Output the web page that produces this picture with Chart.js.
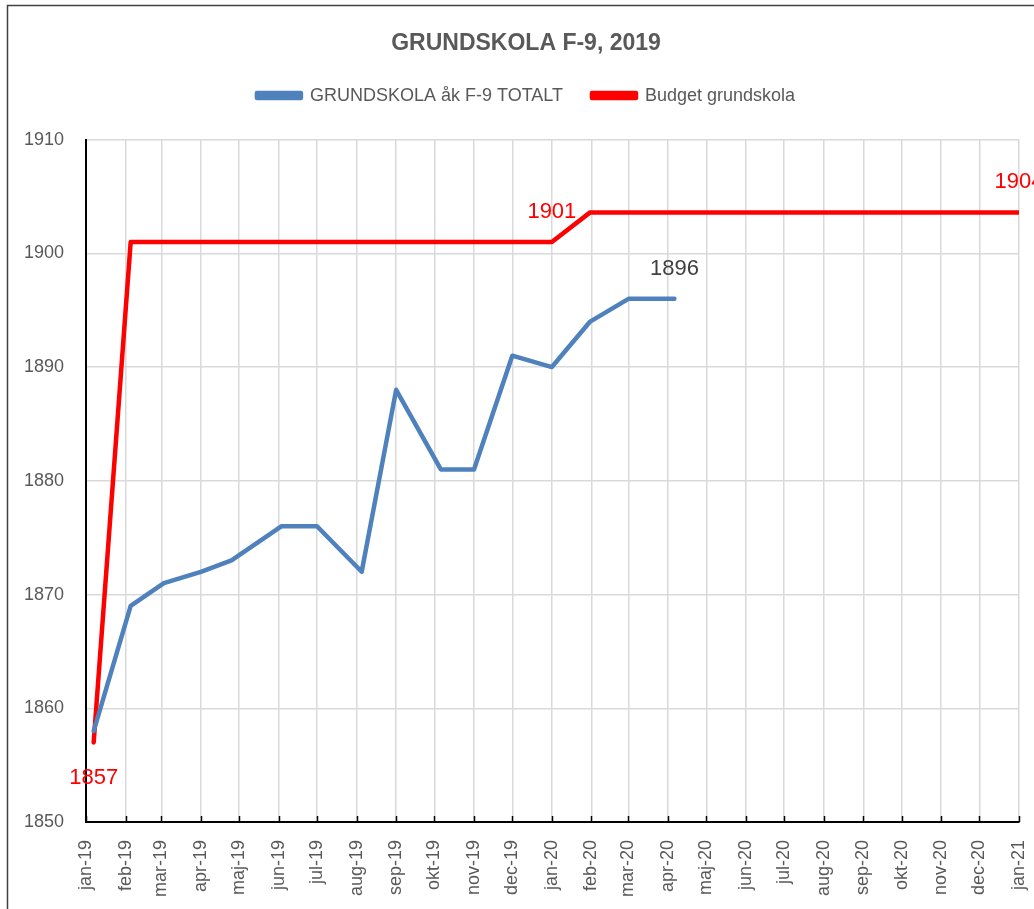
<!DOCTYPE html>
<html>
<head>
<meta charset="utf-8">
<title>GRUNDSKOLA F-9, 2019</title>
<script src="https://cdn.jsdelivr.net/npm/chart.js@4.4.1/dist/chart.umd.min.js"></script>
<style>
  html, body { margin: 0; padding: 0; background: #fff; }
  canvas { display: block; }
</style>
</head>
<body>
<canvas id="chart" width="1034" height="909"></canvas>
<script>
// x runs in days counted from 1 jan 2019
const START = Date.UTC(2019, 0, 1);
const DAY = 86400000;

const TICK_LABELS = [
    'jan-19', 'feb-19', 'mar-19', 'apr-19', 'maj-19', 'jun-19', 'jul-19', 'aug-19',
    'sep-19', 'okt-19', 'nov-19', 'dec-19', 'jan-20', 'feb-20', 'mar-20', 'apr-20',
    'maj-20', 'jun-20', 'jul-20', 'aug-20', 'sep-20', 'okt-20', 'nov-20', 'dec-20', 'jan-21'
];

const ELEV_DATES = [
    '2019-01-07', '2019-02-05', '2019-03-03', '2019-04-01', '2019-04-25', '2019-06-03',
    '2019-07-01', '2019-08-05', '2019-09-01', '2019-10-06', '2019-11-01', '2019-12-01',
    '2020-01-01', '2020-01-31', '2020-03-01', '2020-04-06'
];
const ELEV_VALUES = [1858, 1869, 1871, 1872, 1873, 1876, 1876, 1872, 1888, 1881, 1881, 1891, 1890, 1894, 1896, 1896];

const BUDGET_DATES = ['2019-01-07', '2019-02-05', '2020-01-01', '2020-01-31', '2021-01-01'];
const BUDGET_VALUES = [1857, 1901, 1901, 1903.6, 1903.6];

// which points carry a value label
const ELEV_LABELED = [15];
const BUDGET_LABELED = [0, 2, 4];

const Y_MIN = 1850, Y_MAX = 1910, Y_STEP = 10;

function dayOf(str) {
    const [y, m, d] = str.split('-').map(Number);
    return (Date.UTC(y, m - 1, d) - START) / DAY;
}
function points(dates, values) {
    return dates.map((d, i) => ({ x: dayOf(d), y: values[i] }));
}
const tickDays = TICK_LABELS.map((l, i) => (Date.UTC(2019, i, 1) - START) / DAY);

const GREY = '#595959';
const FONT = "'Liberation Sans', Arial, sans-serif";

// frame round the whole chart
const framePlugin = {
    id: 'frame',
    beforeDraw(chart) {
        const ctx = chart.ctx;
        ctx.save();
        ctx.strokeStyle = '#404040';
        ctx.lineWidth = 1.5;
        ctx.strokeRect(7.5, 5.5, 1200, 1200);
        ctx.restore();
    }
};

// short tick marks on the inside of the x axis
const innerTicks = {
    id: 'innerTicks',
    afterDraw(chart) {
        const x = chart.scales.x, ctx = chart.ctx;
        const bottom = chart.chartArea.bottom;
        ctx.save();
        ctx.strokeStyle = '#000';
        ctx.lineWidth = 1.5;
        x.ticks.forEach(t => {
            const px = Math.round(x.getPixelForValue(t.value)) + 0.5;
            ctx.beginPath();
            ctx.moveTo(px, bottom - 6);
            ctx.lineTo(px, bottom);
            ctx.stroke();
        });
        ctx.restore();
    }
};

const valueLabels = {
    id: 'valueLabels',
    afterDatasetsDraw(chart) {
        const ctx = chart.ctx;
        const sets = [
            { ds: 0, idx: ELEV_LABELED, color: '#404040', below: [] },
            { ds: 1, idx: BUDGET_LABELED, color: '#ff0000', below: [0] }
        ];
        ctx.save();
        ctx.font = '22px ' + FONT;
        ctx.textAlign = 'center';
        ctx.textBaseline = 'middle';
        sets.forEach(s => {
            const meta = chart.getDatasetMeta(s.ds);
            s.idx.forEach(i => {
                const el = meta.data[i];
                const v = chart.data.datasets[s.ds].data[i].y;
                const under = s.below.includes(i);
                ctx.fillStyle = s.color;
                ctx.fillText(String(Math.round(v)), el.x, el.y + (under ? 36 : -30));
            });
        });
        ctx.restore();
    }
};

new Chart(document.getElementById('chart'), {
    type: 'line',
    data: {
        datasets: [
            {
                label: 'GRUNDSKOLA åk F-9 TOTALT',
                data: points(ELEV_DATES, ELEV_VALUES),
                borderColor: '#4f81bd',
                backgroundColor: '#4f81bd',
                borderWidth: 4.5,
                pointRadius: 0,
                borderJoinStyle: 'round',
                borderCapStyle: 'round',
                tension: 0
            },
            {
                label: 'Budget grundskola',
                data: points(BUDGET_DATES, BUDGET_VALUES),
                borderColor: '#ff0000',
                backgroundColor: '#ff0000',
                borderWidth: 4.5,
                pointRadius: 0,
                borderJoinStyle: 'round',
                borderCapStyle: 'round',
                tension: 0
            }
        ]
    },
    options: {
        responsive: false,
        animation: false,
        devicePixelRatio: 1,
        layout: { padding: { left: 18, right: 0, top: 0, bottom: 0 } },
        plugins: {
            title: {
                display: true,
                text: 'GRUNDSKOLA F-9, 2019',
                color: GREY,
                font: { family: FONT, size: 23, weight: 'bold' },
                padding: { top: 30, bottom: 0 }
            },
            // empty block that keeps the gap between legend and plot
            subtitle: {
                display: true,
                text: '',
                weight: 500,
                padding: 0,
                font: { size: 25, lineHeight: 1 }
            },
            legend: {
                labels: {
                    color: GREY,
                    font: { family: FONT, size: 18 },
                    boxWidth: 44,
                    boxHeight: 5,
                    padding: 29
                }
            },
            tooltip: { enabled: false }
        },
        scales: {
            x: {
                type: 'linear',
                min: tickDays[0],
                max: tickDays[tickDays.length - 1],
                afterBuildTicks(scale) {
                    scale.ticks = tickDays.map(v => ({ value: v }));
                },
                afterFit(scale) {
                    scale.height = 87;
                    scale.paddingLeft = 0;
                    scale.paddingRight = 15;
                },
                ticks: {
                    autoSkip: false,
                    minRotation: 90,
                    maxRotation: 90,
                    padding: 18,
                    color: GREY,
                    font: { family: FONT, size: 18 },
                    callback: (v, i) => TICK_LABELS[i]
                },
                grid: { color: '#d9d9d9', lineWidth: 1.5, drawTicks: false },
                border: { color: '#000', width: 2 }
            },
            y: {
                min: Y_MIN,
                max: Y_MAX,
                afterFit(scale) {
                    scale.width = 68;
                },
                ticks: {
                    stepSize: Y_STEP,
                    padding: 22,
                    color: GREY,
                    font: { family: FONT, size: 18 },
                    callback: v => String(v)
                },
                grid: { color: '#d9d9d9', lineWidth: 1.5, drawTicks: false },
                border: { color: '#000', width: 2 }
            }
        }
    },
    plugins: [framePlugin, innerTicks, valueLabels]
});
</script>
</body>
</html>
